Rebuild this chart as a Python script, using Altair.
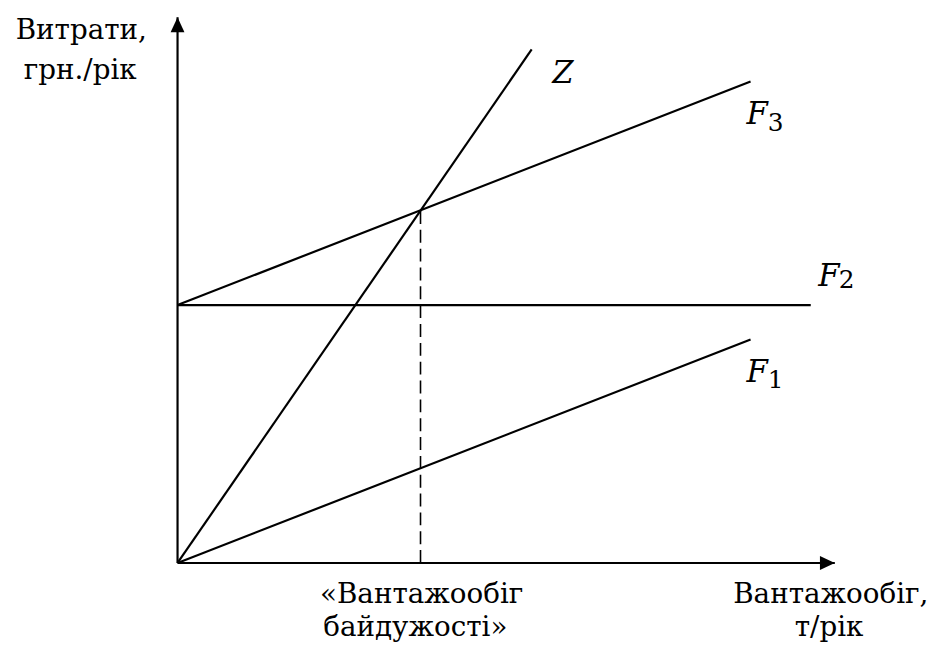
import altair as alt
import pandas as pd

# ---- data (in chart units) ----
series = ["Z", "F3", "F2", "F1"]
x_start = [0.0, 0.0, 0.0, 0.0]
y_start = [0.0, 4.5, 4.5, 0.0]
x_end = [6.18, 10.0, 11.05, 10.0]
y_end = [8.96, 8.4, 4.5, 3.9]

indiff_x = [4.24]          # "вантажообіг байдужості"
indiff_y = [6.15]          # intersection of Z and F3

axis_x_max = [11.47]
axis_y_max = [9.52]

axis_texts = ["Витрати,", "грн./рік", "«Вантажообіг", "байдужості»", "Вантажообіг,", "т/рік"]
axis_tx = [-1.68, -1.70, 4.26, 4.15, 11.40, 11.37]
axis_ty = [9.14, 8.44, -0.69, -1.28, -0.69, -1.28]

line_names = ["Z", "F", "F", "F"]
name_x = [6.54, 9.93, 11.18, 9.93]
name_y = [8.37, 7.66, 4.84, 3.15]

subs = ["3", "2", "1"]
sub_x = [10.30, 11.54, 10.30]
sub_y = [7.54, 4.79, 3.06]

FONT = "DejaVu Serif"
xs = alt.Scale(domain=[0, 11.8], nice=False, zero=False)
ys = alt.Scale(domain=[0, 9.6], nice=False, zero=False)

lines_df = pd.DataFrame({"s": series, "x": x_start, "y": y_start, "x2": x_end, "y2": y_end})
lines = alt.Chart(lines_df).mark_rule(color="black", strokeWidth=2.2).encode(
    x=alt.X("x:Q", scale=xs, axis=None),
    y=alt.Y("y:Q", scale=ys, axis=None),
    x2="x2:Q",
    y2="y2:Q",
)

dash_df = pd.DataFrame({"x": indiff_x, "y": indiff_y, "y0": [0.0]})
dash = alt.Chart(dash_df).mark_rule(color="black", strokeWidth=1.6, strokeDash=[13, 6]).encode(
    x=alt.X("x:Q", scale=xs, axis=None),
    y=alt.Y("y0:Q", scale=ys, axis=None),
    y2="y:Q",
)

axes_df = pd.DataFrame({"x": [0.0, 0.0], "y": [0.0, 0.0], "x2": [axis_x_max[0], 0.0], "y2": [0.0, axis_y_max[0]]})
axes = alt.Chart(axes_df).mark_rule(color="black", strokeWidth=2.2).encode(
    x=alt.X("x:Q", scale=xs, axis=None),
    y=alt.Y("y:Q", scale=ys, axis=None),
    x2="x2:Q",
    y2="y2:Q",
)

arrow_r = pd.DataFrame({"x": axis_x_max, "y": [0.0]})
arrow_right = alt.Chart(arrow_r).mark_point(
    shape="M0,0L-2,-0.93L-2,0.93Z", size=225, filled=True, color="black", opacity=1, strokeWidth=0
).encode(x=alt.X("x:Q", scale=xs, axis=None), y=alt.Y("y:Q", scale=ys, axis=None))

arrow_u = pd.DataFrame({"x": [0.0], "y": axis_y_max})
arrow_up = alt.Chart(arrow_u).mark_point(
    shape="M0,0L-0.93,2L0.93,2Z", size=225, filled=True, color="black", opacity=1, strokeWidth=0
).encode(x=alt.X("x:Q", scale=xs, axis=None), y=alt.Y("y:Q", scale=ys, axis=None))

axis_lab_df = pd.DataFrame({"t": axis_texts, "x": axis_tx, "y": axis_ty})
axis_labels = alt.Chart(axis_lab_df).mark_text(
    font=FONT, fontSize=28, color="black", align="center", baseline="alphabetic"
).encode(x=alt.X("x:Q", scale=xs, axis=None), y=alt.Y("y:Q", scale=ys, axis=None), text="t:N")

name_df = pd.DataFrame({"t": line_names, "x": name_x, "y": name_y})
names = alt.Chart(name_df).mark_text(
    font=FONT, fontSize=31, fontStyle="italic", color="black", align="left", baseline="alphabetic"
).encode(x=alt.X("x:Q", scale=xs, axis=None), y=alt.Y("y:Q", scale=ys, axis=None), text="t:N")

sub_df = pd.DataFrame({"t": subs, "x": sub_x, "y": sub_y})
subs_layer = alt.Chart(sub_df).mark_text(
    font=FONT, fontSize=25, color="black", align="left", baseline="alphabetic"
).encode(x=alt.X("x:Q", scale=xs, axis=None), y=alt.Y("y:Q", scale=ys, axis=None), text="t:N")

chart = alt.layer(lines, dash, axes, arrow_right, arrow_up, axis_labels, names, subs_layer).properties(
    width=682,
    height=555,
    padding={"left": 171, "top": 2, "right": 85, "bottom": 86},
    autosize="none",
).configure_view(stroke=None)

chart.save("out.html", embed_options={"renderer": "svg", "actions": False})
